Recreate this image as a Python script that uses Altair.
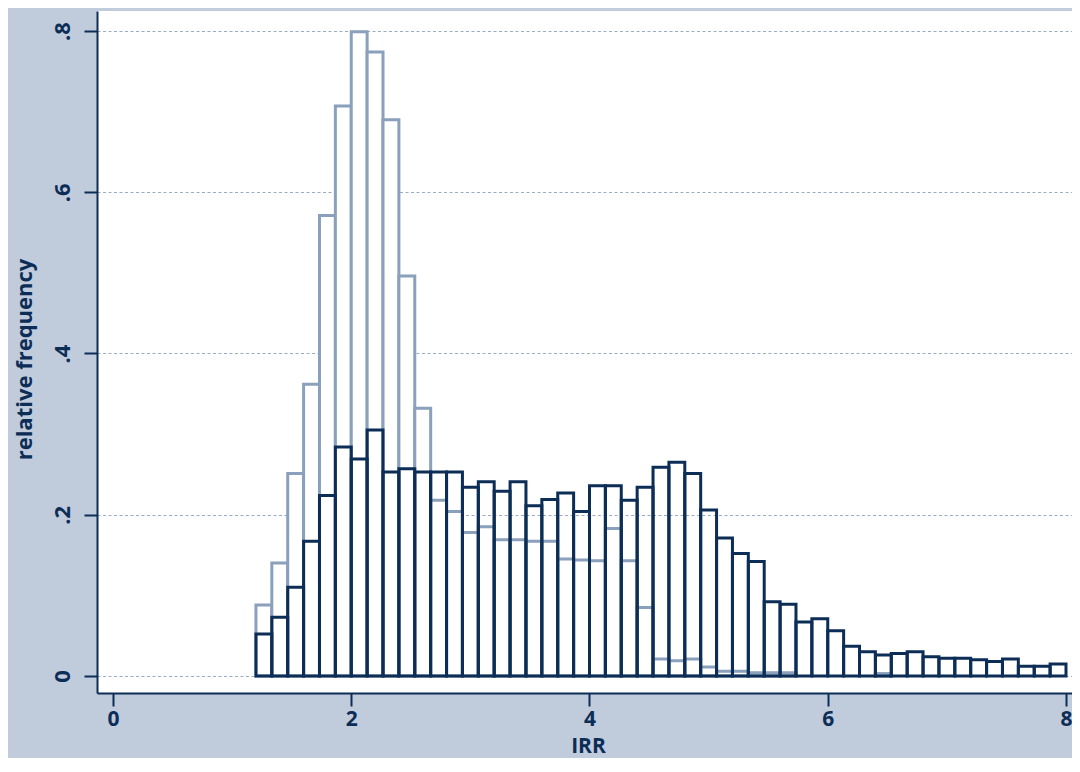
import altair as alt
import pandas as pd

# ---- data ----
bin_start = 1.2
bin_count = 51
bin_end = 8.0

dark_freq = [0.052, 0.073, 0.110, 0.167, 0.224, 0.284, 0.269, 0.305, 0.253, 0.257,
             0.253, 0.253, 0.253, 0.234, 0.241, 0.229, 0.241, 0.211, 0.219, 0.227,
             0.204, 0.236, 0.236, 0.218, 0.234, 0.259, 0.265, 0.251, 0.206, 0.171,
             0.152, 0.142, 0.092, 0.089, 0.067, 0.071, 0.056, 0.037, 0.030, 0.026,
             0.028, 0.030, 0.024, 0.022, 0.022, 0.020, 0.018, 0.021, 0.012, 0.012,
             0.015]

light_freq = [0.088, 0.140, 0.251, 0.362, 0.571, 0.707, 0.799, 0.774, 0.690, 0.496,
              0.332, 0.218, 0.204, 0.178, 0.185, 0.169, 0.169, 0.167, 0.167, 0.145,
              0.144, 0.143, 0.183, 0.143, 0.085, 0.021, 0.019, 0.021, 0.011, 0.006,
              0.006, 0.004, 0.004, 0.004, 0.0, 0.0, 0.0, 0.0, 0.0, 0.003,
              0.0, 0.0, 0.0, 0.0, 0.0, 0.0, 0.0, 0.0, 0.0, 0.0,
              0.0]

x_ticks = [0, 2, 4, 6, 8]
y_ticks = [0, 0.2, 0.4, 0.6, 0.8]

# ---- build tables ----
bw = (bin_end - bin_start) / bin_count
lo = [bin_start + i * bw for i in range(bin_count)]
hi = [bin_start + (i + 1) * bw for i in range(bin_count)]

df_dark = pd.DataFrame({"x0": lo, "x1": hi, "freq": dark_freq, "base": 0.0})
df_light = pd.DataFrame({"x0": lo, "x1": hi, "freq": light_freq, "base": 0.0})
df_light = df_light[df_light["freq"] > 0]

NAVY = "#0c2d56"
LIGHT = "#8aa0bb"
BG = "#c0cbdc"
GRID = "#9aabc4"
FONT = "Open Sans"

x_axis = alt.Axis(values=x_ticks, format="d", title="IRR", grid=False,
                  domainColor=NAVY, domainWidth=2, tickColor=NAVY, tickWidth=2,
                  tickSize=13, labelFont=FONT, labelFontSize=21, labelFontWeight="bold",
                  labelColor=NAVY, labelPadding=2, labelFlush=False,
                  titleFont=FONT, titleFontSize=21, titleFontWeight="bold",
                  titleColor=NAVY, titleX=491, titleY=53, titleBaseline="middle",
                  titleAlign="center")

y_axis = alt.Axis(values=y_ticks,
                  labelExpr="datum.value == 0 ? '0' : replace(format(datum.value, '.1f'), '0.', '.')",
                  grid=True, gridColor=GRID, gridDash=[3, 2.5], gridWidth=1,
                  domainColor=NAVY, domainWidth=2, tickColor=NAVY, tickWidth=2,
                  tickSize=13, labelFont=FONT, labelFontSize=22, labelFontWeight="bold",
                  labelColor=NAVY, labelAngle=-90, labelAlign="center",
                  labelBaseline="bottom", labelPadding=10, labelFlush=False,
                  labelOverlap=False,
                  title="relative frequency", titleFont=FONT, titleFontSize=22,
                  titleFontWeight="bold", titleColor=NAVY, titleAngle=-90,
                  titleX=-73, titleY=348, titleBaseline="middle", titleAlign="center")

x_enc = alt.X("x0:Q", scale=alt.Scale(domain=[-0.1343, 8.0504], nice=False, zero=False),
              axis=x_axis)
y_enc = alt.Y("freq:Q", scale=alt.Scale(domain=[-0.0211, 0.8248], nice=False, zero=False),
              axis=y_axis)

light = alt.Chart(df_light).mark_bar(
    fill="white", stroke=LIGHT, strokeWidth=3, strokeJoin="miter"
).encode(x=x_enc, x2="x1:Q", y=y_enc, y2="base:Q")

dark = alt.Chart(df_dark).mark_bar(
    fill="white", fillOpacity=0, stroke=NAVY, strokeWidth=3, strokeJoin="miter"
).encode(x=x_enc, x2="x1:Q", y=y_enc, y2="base:Q")

chart = alt.layer(light, dark).properties(
    width=975, height=682,
    autosize=alt.AutoSizeParams(type="none"),
    padding={"left": 89, "top": 3, "right": 0, "bottom": 65},
    background=BG,
).configure_view(stroke=None, fill="white")

chart.save("out.html", embed_options={"renderer": "svg", "actions": False})
